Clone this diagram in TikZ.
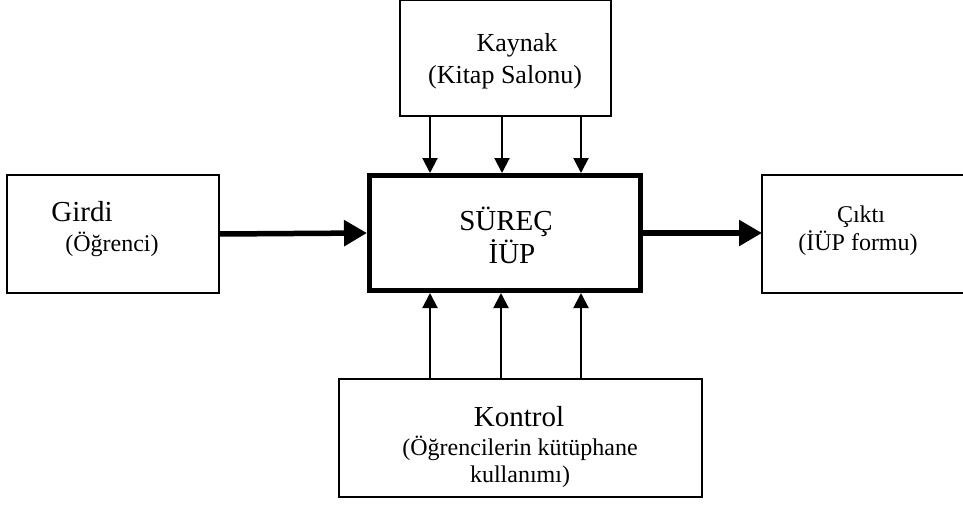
\documentclass[tikz,border=0pt]{standalone}
\usepackage{fontspec}
\setmainfont{Liberation Serif}
\usetikzlibrary{arrows.meta}
\tikzset{
	box/.style={draw, line width=1.5pt, inner sep=0pt, outer sep=0pt},
	procbox/.style={draw, line width=5pt, inner sep=0pt},
	thinarr/.style={line width=2pt, -{Triangle[length=15pt,width=15pt]}},
	thickarr/.style={line width=5.5pt, -{Triangle[length=23pt,width=25pt]}},
	big/.style={anchor=base, inner sep=0pt, font=\fontsize{29}{34}\selectfont},
	mid/.style={anchor=base, inner sep=0pt, font=\fontsize{26}{31}\selectfont},
	small/.style={anchor=base, inner sep=0pt, font=\fontsize{24}{29}\selectfont}
}

\begin{document}
\begin{tikzpicture}[x=1pt, y=-1pt]
			%%%%% START %%%%%
			\useasboundingbox (0, 0) rectangle (963, 504);
			
			\node[box, minimum width=211, minimum height=115.5] (kaynak) at (505.5, 58.25) {};
			\node[procbox, minimum width=271, minimum height=115] (surec) at (505, 233) {};
			\node[box, minimum width=212, minimum height=118] (girdi) at (113, 234) {};
			\node[box, minimum width=218, minimum height=118] (cikti) at (871, 234) {};
			\node[box, minimum width=363, minimum height=118] (kontrol) at (520.5, 438) {};
			
			\node[mid] (kaynakT) at (517, 51) {Kaynak};
			\node[mid] (kaynakS) at (505, 83) {(Kitap Salonu)};
			
			\node[big] (surecT) at (506, 230) {SÜREÇ};
			\node[big] (surecS) at (512, 263) {İÜP};
			
			\node[big] (girdiT) at (82, 221) {Girdi};
			\node[small] (girdiS) at (112, 251) {(Öğrenci)};
			
			\node[small] (ciktiT) at (861, 222) {Çıktı};
			\node[small] (ciktiS) at (858, 250) {(İÜP formu)};
			
			\node[big] (kontrolT) at (519, 426) {Kontrol};
			\node[small] (kontrolS) at (520, 455) {(Öğrencilerin kütüphane};
			\node[small] (kontrolU) at (520, 482) {kullanımı)};
			
			\foreach \x [count=\i] in {430, 502, 581}
				\coordinate (top\i) at (\x, 0);
			\foreach \x [count=\i] in {430, 501, 581}
				\coordinate (bot\i) at (\x, 0);
			
			\foreach \i in {1, 2, 3} {
				\draw[thinarr] (kaynak.south -| top\i) -- (surec.north -| top\i);
				\draw[thinarr] (kontrol.north -| bot\i) -- (surec.south -| bot\i);
			}
			
			\draw[thickarr] (girdi.east) -- (surec.west);
			\draw[thickarr] (surec.east) -- (surec.east -| cikti.west);
			%%%%% END %%%%%
\end{tikzpicture}
\end{document}
